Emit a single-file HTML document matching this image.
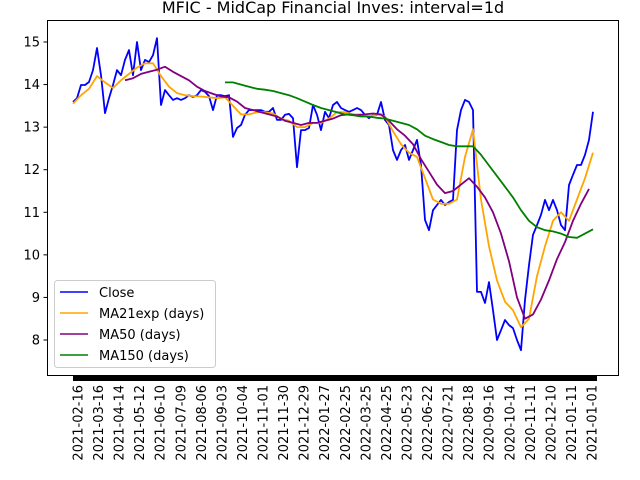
<!DOCTYPE html>
<html><head><meta charset="utf-8"><style>
body{margin:0;background:#fff;}
svg{display:block;font-family:"DejaVu Sans","Liberation Sans",sans-serif;}
</style></head><body>
<svg id="chart" width="640" height="480">
<text x="333" y="13" font-size="16" text-anchor="middle">MFIC - MidCap Financial Inves: interval=1d</text>
<g id="marks"></g>
<rect x="47.5" y="20.5" width="571" height="355" fill="none" stroke="#000" stroke-width="1"/>
<g id="axes"></g>
<g>
<rect x="54.5" y="280.5" width="161" height="87" rx="3" fill="#fff" fill-opacity="0.8" stroke="#ccc"/>
<line x1="60" y1="292" x2="88" y2="292" stroke="#0000ff" stroke-width="1.5"/>
<text x="99" y="297" font-size="13">Close</text>
<line x1="60" y1="313" x2="88" y2="313" stroke="#ffa500" stroke-width="1.5"/>
<text x="99" y="318" font-size="13">MA21exp (days)</text>
<line x1="60" y1="334" x2="88" y2="334" stroke="#800080" stroke-width="1.5"/>
<text x="99" y="339" font-size="13">MA50 (days)</text>
<line x1="60" y1="355" x2="88" y2="355" stroke="#008000" stroke-width="1.5"/>
<text x="99" y="360" font-size="13">MA150 (days)</text>
</g>
</svg>
<script>
const closeValues=[13.59,13.68,13.99,13.99,14.06,14.34,14.86,14.22,13.33,13.68,13.99,14.34,14.22,14.58,14.81,14.22,15.0,14.34,14.58,14.53,14.69,15.09,13.52,13.87,13.75,13.64,13.68,13.64,13.68,13.75,13.71,13.75,13.87,13.83,13.73,13.40,13.75,13.75,13.73,13.75,12.77,12.98,13.05,13.29,13.40,13.40,13.40,13.40,13.36,13.36,13.45,13.17,13.17,13.29,13.31,13.21,12.06,12.93,12.93,12.98,13.52,13.29,12.93,13.36,13.21,13.52,13.59,13.45,13.40,13.36,13.40,13.45,13.40,13.29,13.21,13.29,13.29,13.59,13.17,13.05,12.46,12.23,12.46,12.58,12.23,12.46,12.70,12.11,10.82,10.58,11.05,11.17,11.29,11.17,11.24,11.29,12.93,13.40,13.64,13.59,13.40,9.13,9.13,8.87,9.36,8.70,8.00,8.23,8.47,8.35,8.28,8.00,7.76,8.94,9.76,10.47,10.70,10.94,11.29,11.05,11.29,11.05,10.70,10.58,11.64,11.88,12.11,12.11,12.35,12.70,13.36];
const ma21Values=[13.55,13.75,13.9,14.2,14.05,13.92,14.1,14.25,14.4,14.5,14.5,14.2,13.95,13.8,13.75,13.73,13.72,13.7,13.68,13.7,13.5,13.3,13.3,13.35,13.35,13.32,13.2,13.15,13.0,13.0,13.1,13.1,13.2,13.35,13.35,13.3,13.3,13.25,13.3,13.25,12.9,12.6,12.4,12.3,11.8,11.3,11.2,11.2,11.3,12.3,12.95,11.3,10.2,9.4,8.9,8.7,8.3,8.5,9.5,10.2,10.8,11.0,10.8,11.3,11.8,12.4];
const ma50Values=[14.1,14.15,14.25,14.3,14.35,14.42,14.3,14.2,14.1,13.95,13.85,13.78,13.72,13.7,13.6,13.45,13.4,13.35,13.3,13.25,13.15,13.1,13.05,13.1,13.1,13.15,13.2,13.28,13.3,13.28,13.3,13.32,13.3,13.15,12.95,12.8,12.6,12.25,11.95,11.65,11.45,11.5,11.65,11.8,11.6,11.35,11.0,10.5,9.85,9.0,8.5,8.6,8.95,9.4,9.9,10.3,10.8,11.2,11.55];
const ma150Values=[14.05,14.05,14.0,13.95,13.9,13.88,13.85,13.8,13.75,13.68,13.6,13.52,13.45,13.4,13.35,13.3,13.28,13.25,13.25,13.22,13.2,13.15,13.1,13.05,12.95,12.8,12.72,12.65,12.58,12.55,12.55,12.55,12.35,12.1,11.85,11.6,11.35,11.05,10.8,10.65,10.58,10.55,10.5,10.42,10.4,10.5,10.6];
const ma21Start=0, ma50Start=13, ma150Start=38, maStep=2;
const yTicks=[8,9,10,11,12,13,14,15];
const tickLabels=["2021-02-16","2021-03-16","2021-04-14","2021-05-12","2021-06-10","2021-07-09","2021-08-06","2021-09-03","2021-10-04","2021-11-01","2021-11-30","2021-12-29","2022-01-27","2022-02-25","2022-03-25","2022-04-25","2022-05-23","2022-06-22","2022-07-21","2022-08-18","2020-09-16","2020-10-14","2020-11-11","2020-12-10","2021-01-11","2021-01-01"];
const NS="http://www.w3.org/2000/svg";
const xs=i=>73+4*i;
const ys=v=>42+(15-v)*42.57;
const marks=document.getElementById('marks'), axes=document.getElementById('axes');
function series(vals,start,step,color,name){
  const p=document.createElementNS(NS,'path');
  p.setAttribute('d',vals.map((v,j)=>(j?'L':'M')+xs(start+j*step).toFixed(1)+','+ys(v).toFixed(1)).join(''));
  p.setAttribute('fill','none');p.setAttribute('stroke',color);p.setAttribute('stroke-width','1.8');p.setAttribute('stroke-linejoin','round');
  
  
  marks.appendChild(p);
}
series(closeValues,0,1,'#0000ff','close-line');
series(ma21Values,ma21Start,maStep,'#ffa500','ma21exp-line');
series(ma50Values,ma50Start,maStep,'#800080','ma50-line');
series(ma150Values,ma150Start,maStep,'#008000','ma150-line');
yTicks.forEach(v=>{
  const y=ys(v);
  const l=document.createElementNS(NS,'line');
  l.setAttribute('x1',43.5);l.setAttribute('x2',47.5);l.setAttribute('y1',y);l.setAttribute('y2',y);l.setAttribute('stroke','#000');
  
  
  axes.appendChild(l);
  const t=document.createElementNS(NS,'text');
  t.setAttribute('x',40);t.setAttribute('y',y+4.5);t.setAttribute('font-size','13');t.setAttribute('text-anchor','end');
  t.textContent=v;
  
  
  axes.appendChild(t);
});
const bar=document.createElementNS(NS,'rect');
bar.setAttribute('x',73);bar.setAttribute('y',376);bar.setAttribute('width',524);bar.setAttribute('height',5);bar.setAttribute('fill','#000');


axes.appendChild(bar);
const n=tickLabels.length;
tickLabels.forEach((s,k)=>{
  const x=78+k*(514/(n-1));
  const t=document.createElementNS(NS,'text');
  t.setAttribute('transform','translate('+(x+4.5)+',385) rotate(-90)');
  t.setAttribute('font-size','13');t.setAttribute('text-anchor','end');
  t.textContent=s;
  
  
  axes.appendChild(t);
});
</script>
</body></html>
